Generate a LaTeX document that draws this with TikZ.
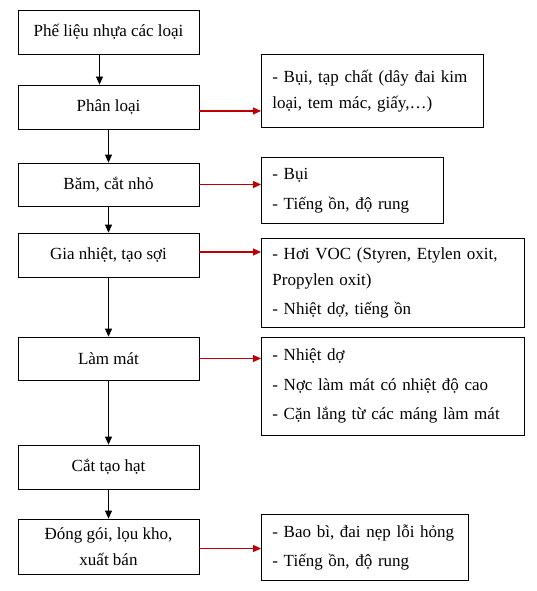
\documentclass[tikz,border=0pt]{standalone}
\usepackage{fontspec}
\setmainfont{Liberation Serif}
\usetikzlibrary{arrows.meta}
\definecolor{arrowred}{HTML}{C00000}

\begin{document}
\begin{tikzpicture}[x=1pt,y=-1pt,
  procbox/.style={draw, line width=0.8pt, minimum width=181pt, inner sep=0pt,
    align=center, font=\fontsize{17}{26}\selectfont},
  wastebox/.style={draw, line width=0.8pt, inner xsep=11pt, inner ysep=0pt,
    align=left, anchor=north west, font=\fontsize{17}{26}\selectfont},
  flow/.style={line width=0.8pt, -{Triangle[length=8pt,width=7pt]}},
  emit/.style={line width=1.2pt, draw=arrowred, -{Triangle[length=8pt,width=7pt]}}]

\useasboundingbox (0,0) rectangle (536,591);

%% the process steps
\node [procbox, minimum height=44pt] (b1) at (108.5,32) {Phế liệu nhựa các loại};
\node [procbox, minimum height=44pt] (b2) at (108.5,107) {Phân loại};
\node [procbox, minimum height=43pt] (b3) at (108.5,184.5) {Băm, cắt nhỏ};
\node [procbox, minimum height=44pt] (b4) at (108.5,255) {Gia nhiệt, tạo sợi};
\node [procbox, minimum height=43pt] (b5) at (108.5,358.5) {Làm mát};
\node [procbox, minimum height=44pt] (b6) at (108.5,467) {Cắt tạo hạt};
\node [procbox, minimum height=55pt] (b7) at (108.5,546.5) {Đóng gói, lọu kho,\\xuất bán};

%% the wastes of each step
\node [wastebox, text width=200pt, minimum height=73pt] (r1) at (261,54)
  {\makebox[199pt][s]{- Bụi, tạp chất (dây đai kim}\\loại, tem mác, giấy,…)};
\node [wastebox, text width=160pt, minimum height=66pt] (r2) at (261,157)
  {- Bụi\\[4pt]- Tiếng ồn, độ rung};
\node [wastebox, text width=241pt, minimum height=89pt] (r3) at (261,238)
  {\makebox[243pt][s]{- Hơi VOC (Styren, Etylen oxit,}\\Propylen oxit)\\[3pt]- Nhiệt dợ, tiếng ồn};
\node [wastebox, text width=241pt, minimum height=98pt] (r4) at (261,337)
  {- Nhiệt dợ\\[3.5pt]- Nợc làm mát có nhiệt độ cao\\[3.5pt]- Cặn lắng từ các máng làm mát};
\node [wastebox, text width=185pt, minimum height=66pt] (r5) at (261,514)
  {- Bao bì, đai nẹp lỗi hỏng\\[3pt]- Tiếng ồn, độ rung};

%% the flow down the steps
\draw [flow] ([xshift=-9pt]b1.south) -- ([xshift=-9pt]b2.north);
\draw [flow] (b2) -- (b3);
\draw [flow] (b3) -- (b4);
\draw [flow] (b4) -- (b5);
\draw [flow] (b5) -- (b6);
\draw [flow] (b6) -- (b7);

%% the red arrows to the wastes
\draw [emit] ([yshift=-4pt]b2.east) -- ([yshift=-4pt]b2.east -| r1.west);
\draw [emit] (b3.east) -- (b3.east -| r2.west);
\draw [emit] ([yshift=3pt]b4.east) -- ([yshift=3pt]b4.east -| r3.west);
\draw [emit] (b5.east) -- (b5.east -| r4.west);
\draw [emit] ([yshift=-2pt]b7.east) -- ([yshift=-2pt]b7.east -| r5.west);

\end{tikzpicture}
\end{document}
